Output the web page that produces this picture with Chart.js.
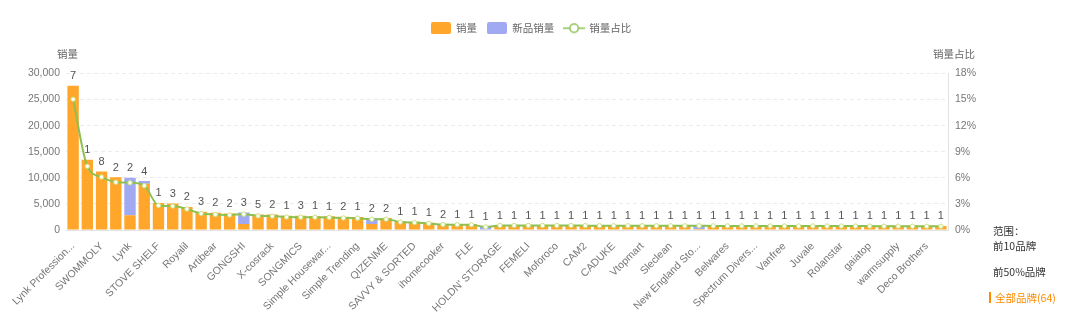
<!DOCTYPE html>
<html>
<head>
<meta charset="utf-8">
<script src="https://cdn.jsdelivr.net/npm/chart.js@4.4.1/dist/chart.umd.min.js"></script>
<style>
  html, body { margin: 0; padding: 0; background: #fff; }
  #wrap { position: relative; width: 1080px; height: 312px; overflow: hidden; }
  #box { position: absolute; left: 0; top: 0; width: 1062px; height: 312px; }
  #range { position: absolute; left: 993px; top: 223px; font: 10.5px "Noto Sans CJK SC", sans-serif; color: #333; }
  #range div { height: 26px; line-height: 16px; white-space: nowrap; }
  #range .first { height: 15px; }
  #range .on { color: #ff8a00; position: relative; left: -4px; }
  #range .on::before { content: ""; display: inline-block; width: 2px; height: 11px; background: #ff8a00; margin-right: 4px; vertical-align: -1px; }
</style>
</head>
<body>
<div id="wrap">
  <div id="box"><canvas id="chart"></canvas></div>
  <div id="range">
    <div class="first">范围：</div>
    <div>前10品牌</div>
    <div>前50%品牌</div>
    <div class="on">全部品牌(64)</div>
  </div>
</div>
<script>
// Brand names (only every other name is printed under the axis)
const brands = [
  'Lynk Profession...', '', 'SWOMMOLY', '', 'Lynk', '', 'STOVE SHELF', '', 'Royalil', '',
  'Artibear', '', 'GONGSHI', '', 'X-cosrack', '', 'SONGMICS', '', 'Simple Housewar...', '',
  'Simple Trending', '', 'QIZENME', '', 'SAVVY & SORTED', '', 'ihomecooker', '', 'FLE', '',
  "HOLDN' STORAGE", '', 'FEMELI', '', 'Moforoco', '', 'CAM2', '', 'CADUKE', '',
  'Vtopmart', '', 'Sleclean', '', 'New England Sto...', '', 'Belwares', '', 'Spectrum Divers...', '',
  'Vanfree', '', 'Juvale', '', 'Rolanstar', '', 'gaiatop', '', 'warmsupply', '',
  'Deco Brothers', ''
];

// 销量 (regular sales)
const sales = [
  27670, 13480, 11200, 10120, 2850, 8870, 5190, 5060, 4430, 3480,
  3290, 3160, 1140, 2980, 2950, 2750, 2720, 2700, 2650, 2530,
  2500, 1140, 2300, 1700, 1560, 1400, 1150, 1120, 1100, 0,
  960, 950, 950, 940, 930, 930, 920, 920, 910, 900,
  900, 890, 890, 880, 200, 870, 870, 860, 860, 850,
  850, 840, 840, 830, 830, 820, 820, 810, 810, 800,
  800, 790
];

// 新品销量 (new-product sales, stacked on top)
const newSales = [
  0, 0, 0, 0, 7150, 500, 0, 0, 0, 0,
  0, 0, 2210, 0, 0, 0, 0, 0, 0, 0,
  0, 1140, 0, 0, 0, 0, 0, 0, 0, 650,
  0, 0, 0, 0, 0, 0, 0, 0, 0, 0,
  0, 0, 0, 0, 680, 0, 0, 0, 0, 0,
  0, 0, 0, 0, 0, 0, 0, 0, 0, 0,
  0, 0
];

// 销量占比 (% of all sales)
const share = [
  15.04, 7.33, 6.09, 5.50, 5.43, 5.09, 2.82, 2.75, 2.41, 1.89,
  1.79, 1.72, 1.82, 1.62, 1.60, 1.49, 1.48, 1.47, 1.44, 1.38,
  1.36, 1.24, 1.25, 0.92, 0.85, 0.76, 0.63, 0.61, 0.60, 0.35,
  0.52, 0.52, 0.52, 0.51, 0.51, 0.51, 0.50, 0.50, 0.49, 0.49,
  0.49, 0.48, 0.48, 0.48, 0.48, 0.47, 0.47, 0.47, 0.47, 0.46,
  0.46, 0.46, 0.46, 0.45, 0.45, 0.45, 0.45, 0.44, 0.44, 0.43,
  0.43, 0.43
];

// Product count printed above each bar
const productCount = [
  7, 1, 8, 2, 2, 4, 1, 3, 2, 3,
  2, 2, 3, 5, 2, 1, 3, 1, 1, 2,
  1, 2, 2, 1, 1, 1, 2, 1, 1, 1,
  1, 1, 1, 1, 1, 1, 1, 1, 1, 1,
  1, 1, 1, 1, 1, 1, 1, 1, 1, 1,
  1, 1, 1, 1, 1, 1, 1, 1, 1, 1,
  1, 1
];

const salesTicks = [0, 5000, 10000, 15000, 20000, 25000, 30000];
const shareTicks = [0, 3, 6, 9, 12, 15, 18];

const ORANGE = '#FFA62B';
const BLUE = '#A0A9F2';
const GREEN = '#8CC152';
const LATIN = '"Liberation Sans", Arial, sans-serif';
const CJK = '"Noto Sans CJK SC", "Liberation Sans", sans-serif';

function boxIcon(color) {
  const c = document.createElement('canvas');
  c.width = 20; c.height = 12;
  const g = c.getContext('2d');
  g.fillStyle = color;
  g.beginPath();
  g.roundRect(0, 0, 20, 12, 2);
  g.fill();
  return c;
}
function lineIcon() {
  const c = document.createElement('canvas');
  c.width = 22; c.height = 12;
  const g = c.getContext('2d');
  g.strokeStyle = GREEN; g.lineWidth = 1.5;
  g.beginPath(); g.moveTo(0, 6); g.lineTo(22, 6); g.stroke();
  g.fillStyle = '#fff';
  g.beginPath(); g.arc(11, 6, 4.2, 0, Math.PI * 2); g.fill(); g.stroke();
  return c;
}
const legendIcons = [boxIcon(ORANGE), boxIcon(BLUE), lineIcon()];

// Extra room under the legend for the axis captions
const legendGap = {
  id: 'legendGap',
  beforeLayout(chart) {
    const lg = chart.legend;
    if (lg && !lg._gapWrapped) {
      const fit = lg.fit;
      lg.fit = function () { fit.call(this); this.height += 30; };
      lg._gapWrapped = true;
    }
  }
};

// Axis captions above both value axes
const axisCaptions = {
  id: 'axisCaptions',
  afterDraw(chart) {
    const { ctx, chartArea } = chart;
    ctx.save();
    ctx.font = '10.5px ' + CJK;
    ctx.fillStyle = '#666';
    ctx.textBaseline = 'middle';
    ctx.textAlign = 'left';
    ctx.fillText('销量', chartArea.left - 9, chartArea.top - 19);
    ctx.textAlign = 'right';
    ctx.fillText('销量占比', chartArea.right + 27, chartArea.top - 19);
    ctx.restore();
  }
};

// Product counts above each stacked bar
const countLabels = {
  id: 'countLabels',
  afterDatasetsDraw(chart) {
    const { ctx } = chart;
    const top = chart.getDatasetMeta(1).data;
    ctx.save();
    ctx.font = '11px ' + LATIN;
    ctx.fillStyle = '#555';
    ctx.textAlign = 'center';
    ctx.textBaseline = 'bottom';
    productCount.forEach((n, i) => {
      const el = top[i];
      ctx.fillText(String(n), el.x, el.y - 4);
    });
    ctx.restore();
  }
};

new Chart(document.getElementById('chart'), {
  data: {
    labels: brands,
    datasets: [
      { type: 'bar', label: '销量', data: sales, backgroundColor: ORANGE, stack: 's', yAxisID: 'y', order: 2,
        categoryPercentage: 0.8, barPercentage: 1 },
      { type: 'bar', label: '新品销量', data: newSales, backgroundColor: BLUE, stack: 's', yAxisID: 'y', order: 2,
        categoryPercentage: 0.8, barPercentage: 1 },
      { type: 'line', label: '销量占比', data: share, yAxisID: 'y1', order: 1,
        borderColor: GREEN, borderWidth: 2, cubicInterpolationMode: 'monotone',
        pointRadius: 2.2, pointBorderWidth: 1, pointBackgroundColor: '#fff', pointBorderColor: '#c9e07a' }
    ]
  },
  options: {
    responsive: true,
    maintainAspectRatio: false,
    animation: false,
    layout: { padding: { top: 13, left: 0, right: 0, bottom: 0 } },
    plugins: {
      tooltip: { enabled: false },
      legend: {
        position: 'top',
        labels: {
          usePointStyle: true,
          pointStyleWidth: 20,
          boxHeight: 12,
          padding: 10,
          color: '#666',
          font: { family: CJK, size: 10.5 },
          generateLabels: chart => chart.data.datasets.map((ds, i) => ({
            text: ds.label, pointStyle: legendIcons[i], fillStyle: 'transparent',
            strokeStyle: 'transparent', lineWidth: 0, hidden: false, datasetIndex: i, fontColor: '#666'
          }))
        }
      }
    },
    scales: {
      x: {
        stacked: true,
        grid: { display: false },
        border: { color: '#e3e3e3' },
        ticks: {
          autoSkip: false, maxRotation: 45, minRotation: 45, padding: 2,
          color: '#777', font: { family: LATIN, size: 10.5 }
        },
        afterFit(scale) { scale.height = 82; }
      },
      y: {
        stacked: true,
        position: 'left',
        min: salesTicks[0], max: salesTicks[salesTicks.length - 1],
        afterBuildTicks(scale) { scale.ticks = salesTicks.map(v => ({ value: v })); },
        grid: { color: '#ececec', tickLength: 0 },
        border: { display: false, dash: [4, 3] },
        ticks: {
          color: '#777', padding: 6, font: { family: LATIN, size: 10.5 },
          callback: v => v.toLocaleString('en-US')
        },
        afterFit(scale) { scale.width = 66; }
      },
      y1: {
        position: 'right',
        min: shareTicks[0], max: shareTicks[shareTicks.length - 1],
        afterBuildTicks(scale) { scale.ticks = shareTicks.map(v => ({ value: v })); },
        grid: { drawOnChartArea: false, tickLength: 0 },
        border: { color: '#e3e3e3' },
        ticks: {
          color: '#777', padding: 7, font: { family: LATIN, size: 10.5 },
          callback: v => v + '%'
        },
        afterFit(scale) { scale.width = 114; }
      }
    }
  },
  plugins: [legendGap, axisCaptions, countLabels]
});
</script>
</body>
</html>
